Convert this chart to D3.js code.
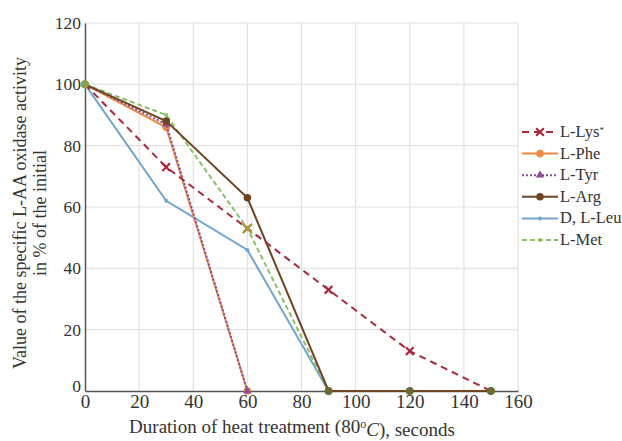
<!DOCTYPE html>
<html>
<head>
<meta charset="utf-8">
<script src="https://cdn.jsdelivr.net/npm/d3@7"></script>
<style>
  body { margin: 0; background: #fff; }
</style>
</head>
<body>
<div id="chart"></div>
<script>
// Data
const xTicks = [0, 20, 40, 60, 80, 100, 120, 140, 160];
const yTicks = [0, 20, 40, 60, 80, 100, 120];

const lysX = [0, 30, 60, 90, 120, 150];
const lysY = [100, 73, 53, 33, 13, 0];
const pheX = [0, 30, 60];
const pheY = [100, 86, 0];
const tyrX = [0, 30, 60];
const tyrY = [100, 87, 0];
const argX = [0, 30, 60, 90, 120, 150];
const argY = [100, 88, 63, 0, 0, 0];
const leuX = [0, 30, 60, 90];
const leuY = [100, 62, 46, 0];
const metX = [0, 30, 60, 90, 120, 150];
const metY = [100, 90, 53, 0, 0, 0];

const SERIF = "'Liberation Serif', 'Times New Roman', serif";

const series = [
  { name: "L-Lys", sup: "*", xs: lysX, ys: lysY, color: "#a8283c", dash: "7,5", marker: "cross", z: 6 },
  { name: "L-Phe", xs: pheX, ys: pheY, color: "#ee8a45", dash: null, marker: "circle", z: 3 },
  { name: "L-Tyr", xs: tyrX, ys: tyrY, color: "#8a4b9a", dash: "2,2", marker: "triangle", z: 4 },
  { name: "L-Arg", xs: argX, ys: argY, color: "#6e4422", dash: null, marker: "circle", z: 5 },
  { name: "D, L-Leu", xs: leuX, ys: leuY, color: "#71a5cf", dash: null, marker: "small", z: 1 },
  { name: "L-Met", xs: metX, ys: metY, color: "#8cbf6a", dash: "5,3", marker: "small", z: 2 }
];

const W = 622, H = 441;
const margin = { left: 85, right: 104, top: 23, bottom: 50 };

const svg = d3.select("#chart").append("svg")
  .attr("width", W).attr("height", H)
  .style("font-family", SERIF);

const x = d3.scaleLinear().domain([0, 160]).range([margin.left, W - margin.right]);
const y = d3.scaleLinear().domain([0, 120]).range([H - margin.bottom, margin.top]);

// grid
svg.append("g").selectAll("line").data(xTicks.slice(1)).join("line")
  .attr("x1", d => x(d)).attr("x2", d => x(d))
  .attr("y1", y(120)).attr("y2", y(0))
  .attr("stroke", "#e2e2e2").attr("stroke-width", 1.2);
svg.append("g").selectAll("line").data(yTicks.slice(1)).join("line")
  .attr("x1", x(0)).attr("x2", x(160))
  .attr("y1", d => y(d)).attr("y2", d => y(d))
  .attr("stroke", "#e2e2e2").attr("stroke-width", 1.2);

// axes
const xAxis = svg.append("g")
  .attr("transform", `translate(0,${y(0)})`)
  .call(d3.axisBottom(x).tickValues(xTicks).tickSize(0).tickPadding(3));
xAxis.select(".domain").attr("stroke", "#555").attr("stroke-width", 1.5);
xAxis.selectAll("text").style("font-size", "19px");

const yAxis = svg.append("g")
  .attr("transform", `translate(${x(0)},0)`)
  .call(d3.axisLeft(y).tickValues(yTicks).tickSize(0).tickPadding(4));
yAxis.select(".domain").attr("stroke", "#555").attr("stroke-width", 1.5);
yAxis.selectAll("text").style("font-size", "17.5px");
yAxis.selectAll(".tick").filter(d => d === 0).select("text").attr("dy", "0.05em");

// lines
const line = d3.line().x(d => x(d[0])).y(d => y(d[1]));

function drawMarker(g, type, cx, cy, color) {
  if (type === "circle") {
    g.append("circle").attr("cx", cx).attr("cy", cy).attr("r", 3.8).attr("fill", color);
  } else if (type === "cross") {
    g.append("path").attr("d", d3.symbol().type(d3.symbolX).size(40)())
      .attr("transform", `translate(${cx},${cy})`)
      .attr("stroke", color).attr("stroke-width", 2.2).attr("fill", "none");
  } else if (type === "triangle") {
    g.append("path").attr("d", d3.symbol().type(d3.symbolTriangle).size(30)())
      .attr("transform", `translate(${cx},${cy})`).attr("fill", color);
  } else {
    g.append("circle").attr("cx", cx).attr("cy", cy).attr("r", 2).attr("fill", color);
  }
}

const plot = svg.append("g");
series.slice().sort((a, b) => a.z - b.z).forEach(s => {
  const pts = s.xs.map((v, i) => [v, s.ys[i]]);
  plot.append("path").datum(pts)
    .attr("d", line)
    .attr("fill", "none")
    .attr("stroke", s.color)
    .attr("stroke-width", 2)
    .attr("stroke-dasharray", s.dash);
  pts.forEach(p => {
    let c = s.color, m = s.marker;
    if (p[1] === 0 && p[0] >= 90) { c = "#6b6a35"; m = "circle"; }
    if (p[0] === 0) { c = "#8e9e4a"; m = "circle"; }
    drawMarker(plot, m, x(p[0]), y(p[1]), c);
  });
});
// combined marker where Lys and Met meet at 60 s
plot.append("path").attr("d", d3.symbol().type(d3.symbolX).size(60)())
  .attr("transform", `translate(${x(lysX[2])},${y(lysY[2])})`)
  .attr("stroke", "#a3a33a").attr("stroke-width", 2).attr("fill", "none");

// axis titles
const midY = (y(0) + y(120)) / 2 + 6;
svg.append("text")
  .attr("transform", `translate(26,${midY}) rotate(-90)`)
  .attr("text-anchor", "middle").style("font-size", "18px")
  .text("Value of the specific L-AA oxidase activity");
svg.append("text")
  .attr("transform", `translate(46,${midY}) rotate(-90)`)
  .attr("text-anchor", "middle").style("font-size", "18px")
  .text("in % of the initial");

const xt = svg.append("text")
  .attr("x", 292).attr("y", 433)
  .attr("text-anchor", "middle").style("font-size", "19px");
xt.append("tspan").text("Duration of heat treatment (80");
xt.append("tspan").attr("dy", "-0.45em").style("font-size", "12px").text("o");
xt.append("tspan").attr("dy", "0.45em").style("font-style", "italic").text("C");
xt.append("tspan").text("), seconds");

// legend
const legend = svg.append("g").attr("transform", "translate(520,132)");
series.forEach((s, i) => {
  const row = legend.append("g").attr("transform", `translate(0,${i * 21.6})`);
  row.append("line").attr("x1", 2).attr("x2", 38).attr("y1", 0).attr("y2", 0)
    .attr("stroke", s.color).attr("stroke-width", 2).attr("stroke-dasharray", s.dash);
  drawMarker(row, s.marker, 20, 0, s.color);
  const t = row.append("text").attr("x", 40).attr("y", 5).style("font-size", "16.5px");
  t.append("tspan").text(s.name);
  if (s.sup) t.append("tspan").attr("dy", "-0.5em").style("font-size", "9px").text(s.sup);
});

svg.selectAll("text").style("font-family", SERIF).attr("fill", "#333");
</script>
</body>
</html>
